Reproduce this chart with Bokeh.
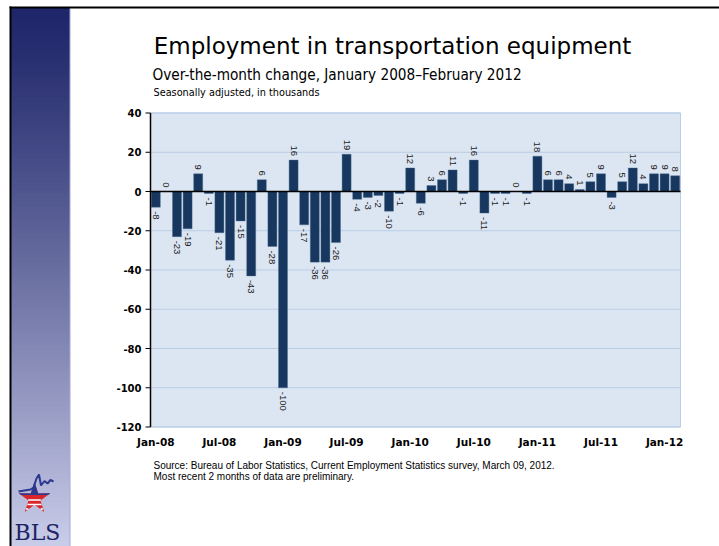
import numpy as np
from bokeh.plotting import figure
from bokeh.models import Range1d, ColumnDataSource
from bokeh.core.properties import value
from bokeh.embed import file_html
from bokeh.resources import INLINE

# ---------------- data ----------------
month_names = ["Jan", "Feb", "Mar", "Apr", "May", "Jun", "Jul", "Aug", "Sep", "Oct", "Nov", "Dec"]
years = ["08", "09", "10", "11", "12"]
months = [f"{m}-{y}" for y in years for m in month_names][:50]

change = [-8, 0, -23, -19, 9, -1, -21, -35, -15, -43, 6, -28,
          -100, 16, -17, -36, -36, -26, 19, -4, -3, -2, -10, -1,
          12, -6, 3, 6, 11, -1, 16, -11, -1, -1, 0, -1,
          18, 6, 6, 4, 1, 5, 9, -3, 5, 12, 4, 9,
          9, 8]

x_tick_labels = ["Jan-08", "Jul-08", "Jan-09", "Jul-09", "Jan-10", "Jul-10", "Jan-11", "Jul-11", "Jan-12"]
y_ticks = [40, 20, 0, -20, -40, -60, -80, -100, -120]
y_tick_labels = ["40", "20", "0", "-20", "-40", "-60", "-80", "-100", "-120"]
y_min, y_max = -120, 40

title_text = "Employment in transportation equipment"
subtitle_text = "Over-the-month change, January 2008\u2013February 2012"
units_text = "Seasonally adjusted, in thousands"
source_line1 = "Source: Bureau of Labor Statistics, Current Employment Statistics survey, March 09, 2012."
source_line2 = "Most recent 2 months of data are preliminary."

# ---------------- layout / styles ----------------
W, H = 719, 546
PLOT_L, PLOT_R, PLOT_T, PLOT_B = 150, 680, 112.5, 426.5
BAR = "#17375e"
BG = "#dce6f2"
GRID = "#b9cde5"
COND_FONT = "DejaVu Sans Condensed, Liberation Sans, sans-serif"
TICK_FONT = "DejaVu Sans"
LABEL_FONT = "Liberation Sans"

n = len(months)
xunit = (PLOT_R - PLOT_L) / n
yunit = (PLOT_B - PLOT_T) / (y_max - y_min)
x_range = Range1d(-0.5 - PLOT_L / xunit, n - 0.5 + (W - PLOT_R) / xunit)
y_range = Range1d(y_min - (H - PLOT_B) / yunit, y_max + PLOT_T / yunit)

p = figure(width=W, height=H, x_range=x_range, y_range=y_range, min_border=0,
           x_axis_location=None, y_axis_location=None,
           output_backend="svg", toolbar_location=None)
p.extra_x_ranges = {"px": Range1d(0, W)}
p.extra_y_ranges = {"px": Range1d(H, 0)}
p.outline_line_color = None
p.background_fill_color = "white"
p.border_fill_color = "white"
p.xgrid.grid_line_color = None
p.ygrid.grid_line_color = None
PX = dict(x_range_name="px", y_range_name="px")

# ---------------- sidebar decoration ----------------
nb = 134
tops = np.linspace(8, H, nb, endpoint=False)
bots = tops + (H - 8) / nb + 1.0
c0 = np.array([31, 38, 106])
c1 = np.array([203, 206, 234])
cols = []
for t0 in tops:
    t = np.clip((t0 - 8) / (H - 8), 0, 1) ** 1.15
    c = (c0 + (c1 - c0) * t).astype(int)
    cols.append("#%02x%02x%02x" % tuple(c))
p.quad(left=11, right=69, top=tops, bottom=bots, fill_color=cols, line_color=cols,
       line_width=1, **PX)
p.quad(left=69, right=70, top=8, bottom=H, fill_color="#a3a8d4", line_color=None, **PX)
p.quad(left=9, right=11, top=6, bottom=H, fill_color="black", line_color=None, **PX)
p.quad(left=9, right=W, top=6, bottom=8, fill_color="black", line_color=None, **PX)

# star logo (pixel coordinates, y down)
cx, cy, R, r = 34, 498, 16.6, 6.3
ang = np.deg2rad(-90 + 36 * np.arange(10))
rad = np.where(np.arange(10) % 2 == 0, R, r)
sx = cx + rad * np.cos(ang)
sy = cy + rad * np.sin(ang)
p.patch(sx, sy, fill_color="#d8262c", line_color=None, **PX)


def clip_above(xs, ys, yc):
    out = []
    pts = list(zip(xs, ys))
    for i in range(len(pts)):
        (x1, y1), (x2, y2) = pts[i - 1], pts[i]
        in1, in2 = y1 <= yc, y2 <= yc
        if in2:
            if not in1:
                out.append((x1 + (x2 - x1) * (yc - y1) / (y2 - y1), yc))
            out.append((x2, y2))
        elif in1:
            out.append((x1 + (x2 - x1) * (yc - y1) / (y2 - y1), yc))
    return [q[0] for q in out], [q[1] for q in out]


bx, by = clip_above(sx, sy, cy - 3.5)
p.patch(bx, by, fill_color="#2b3a8e", line_color=None, **PX)

seg_x, seg_y = [], []
for yl in (cy + 1.5, cy + 6.0, cy + 10.5):
    xs_cross = []
    for i in range(10):
        x1, y1, x2, y2 = sx[i - 1], sy[i - 1], sx[i], sy[i]
        if (y1 - yl) * (y2 - yl) < 0:
            xs_cross.append(x1 + (x2 - x1) * (yl - y1) / (y2 - y1))
    xs_cross.sort()
    for k in range(0, len(xs_cross) - 1, 2):
        seg_x.append([xs_cross[k] + 0.3, xs_cross[k + 1] - 0.3])
        seg_y.append([yl, yl])
p.multi_line(seg_x, seg_y, line_color="white", line_width=1.6, **PX)

zz_dx = [-16, -4, -1, 2, 4.5, 6.5, 10, 13, 16, 19]
zz_dy = [-7, -9, -11, -20, -24, -13, -17.5, -15, -18.5, -17]
p.line([cx + d for d in zz_dx], [cy + d for d in zz_dy], line_color="#2b3a8e", line_width=2, **PX)

p.text(x=[14], y=[532], text=["BLS"], text_font=value("DejaVu Serif"),
       text_font_size="22px", text_baseline="middle", text_color="#1d2463", **PX)

# ---------------- titles ----------------
p.text(x=[392], y=[45], text=[title_text], text_font=value("DejaVu Sans"), text_font_size="23px",
       text_align="center", text_baseline="middle", text_color="black", **PX)
p.text(x=[152], y=[74], text=[subtitle_text], text_font=value(COND_FONT), text_font_size="15.2px",
       text_align="left", text_baseline="middle", text_color="black", **PX)
p.text(x=[153], y=[91.5], text=[units_text], text_font=value(COND_FONT), text_font_size="10.8px",
       text_align="left", text_baseline="middle", text_color="black", **PX)
p.text(x=[153, 153], y=[464.5, 475.5], text=[source_line1, source_line2], text_font=value(LABEL_FONT),
       text_font_size="10px", text_align="left", text_baseline="middle", text_color="black", **PX)

# ---------------- chart ----------------
idx = list(range(n))
src = ColumnDataSource(dict(x=idx, top=change, month=months))
pos = ColumnDataSource(dict(x=[i for i, v in zip(idx, change) if v >= 0],
                            y=[v for v in change if v >= 0],
                            t=[str(v) for v in change if v >= 0]))
neg = ColumnDataSource(dict(x=[i for i, v in zip(idx, change) if v < 0],
                            y=[v for v in change if v < 0],
                            t=[str(v) for v in change if v < 0]))

# plot area and gridlines
p.quad(left=-0.5, right=n - 0.5, bottom=y_min, top=y_max, fill_color=BG, line_color=GRID, line_width=1)
p.segment(x0=[-0.5] * len(y_ticks), x1=[n - 0.5] * len(y_ticks), y0=y_ticks, y1=y_ticks,
          line_color=GRID, line_width=1)

p.vbar(x="x", top="top", bottom=0, width=0.85, source=src,
       fill_color=BAR, line_color="#4a6a93", line_width=0.4)

# zero line
p.segment(x0=[-0.5], x1=[n - 0.5], y0=[0], y1=[0], line_color="black", line_width=1.6)

# y axis
p.segment(x0=[-0.5], x1=[-0.5], y0=[y_min], y1=[y_max], line_color="black", line_width=1.5)
p.segment(x0=[PLOT_L - 5] * len(y_ticks), x1=[PLOT_L] * len(y_ticks), y0=y_ticks, y1=y_ticks,
          line_color="black", line_width=1, x_range_name="px")
p.text(x=[-0.5] * len(y_ticks), y=y_ticks, text=y_tick_labels, x_offset=-9,
       text_align="right", text_baseline="middle", text_font=value(TICK_FONT),
       text_font_style="bold", text_font_size="10px", text_color="black")

# x axis labels
tick_idx = [months.index(t) for t in x_tick_labels]
p.text(x=tick_idx, y=[y_min] * len(tick_idx), text=x_tick_labels, y_offset=15,
       text_align="center", text_baseline="middle", text_font=value(TICK_FONT),
       text_font_style="bold", text_font_size="10.5px", text_color="black")

# bar value labels
p.text(x="x", y="y", text="t", source=pos, angle=-np.pi / 2, text_align="right",
       text_baseline="middle", y_offset=-4, text_font=value(LABEL_FONT),
       text_font_size="9.5px", text_color="#1a1a1a")
p.text(x="x", y="y", text="t", source=neg, angle=-np.pi / 2, text_align="left",
       text_baseline="middle", y_offset=4, text_font=value(LABEL_FONT),
       text_font_size="9.5px", text_color="#1a1a1a")

open("out.html", "w").write(file_html(p, INLINE))
